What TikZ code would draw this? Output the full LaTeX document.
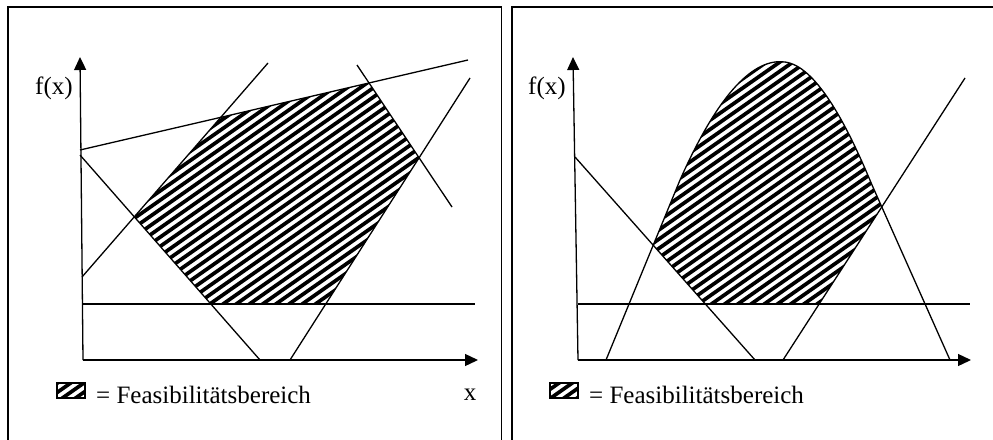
\documentclass[tikz,border=0pt]{standalone}
\usepackage{fontspec}
\setmainfont{Liberation Serif}
\usetikzlibrary{arrows.meta,calc}
\newcommand\myhatch{%
  \foreach \i in {0,...,135}{%
    \pgfmathsetmacro\cc{-730+13.2*\i}%
    \draw[hatchline] (\cc,500) -- ++(714,-500);}}
\begin{document}
\begin{tikzpicture}[x=1pt,y=-1pt,
  frame/.style={line width=1.4pt},
  con/.style={line width=1.3pt},
  axis/.style={line width=1.3pt,-{Triangle[length=13pt,width=12pt]}},
  hatchline/.style={line width=3.7pt},
  lbl/.style={font=\fontsize{25}{29}\selectfont,inner sep=0pt}]
\useasboundingbox (0,0) rectangle (993,439);
% frames
\draw[frame] (8,445) -- (8,7) -- (501.5,7) -- (501.5,445);
\draw[frame] (512,445) -- (512,7) -- (1000,7);

% ===== left panel =====
\coordinate (a1) at (80,150);  \coordinate (a2) at (468,60);
\coordinate (b1) at (80,155);  \coordinate (b2) at (260,360);
\coordinate (c1) at (82,277);  \coordinate (c2) at (268,63);
\coordinate (d1) at (357,65);  \coordinate (d2) at (452,207);
\coordinate (e1) at (290,360); \coordinate (e2) at (470,78);
\coordinate (g1) at (83,304);  \coordinate (g2) at (475,304);
\begin{scope}
  \clip (intersection of c1--c2 and a1--a2) --
        (intersection of a1--a2 and d1--d2) --
        (intersection of d1--d2 and e1--e2) --
        (intersection of e1--e2 and g1--g2) --
        (intersection of g1--g2 and b1--b2) --
        (intersection of b1--b2 and c1--c2) -- cycle;
  \myhatch
\end{scope}
\draw[con] (a1) -- (a2);
\draw[con] (b1) -- (b2);
\draw[con] (c1) -- (c2);
\draw[con] (d1) -- (d2);
\draw[con] (e1) -- (e2);
\draw[con] (g1) -- (g2);
\coordinate (o1) at (83,360);
\coordinate (ytip1) at (80,57);
\coordinate (xtip1) at (478,360);
\draw[axis] (o1) -- (ytip1);
\draw[axis] (o1) -- (xtip1);
\node[lbl,anchor=base west] (fx1) at (35,94) {f(x)};
\node[lbl,anchor=base] (xl1) at (470,400) {x};
% legend left
\begin{scope}
  \clip (57,383) rectangle (85,398);
  \myhatch
\end{scope}
\draw[line width=1.2pt] (57,383) rectangle (85,398);
\node[lbl,anchor=base west] (leg1) at (96,403) {= Feasibilitätsbereich};

% ===== right panel =====
\coordinate (p1) at (575,157); \coordinate (p2) at (755,360);
\coordinate (q1) at (783,360); \coordinate (q2) at (965,78);
\coordinate (h1) at (578,304); \coordinate (h2) at (970,304);
\coordinate (k0) at (606,360); \coordinate (k1) at (680,180);
\coordinate (kp) at (785,62);  \coordinate (k2) at (872,185);
\coordinate (k3) at (950,360);
\begin{scope}
  \clip (k0) -- (k1) .. controls (720,90) and (755,58) .. (kp)
        .. controls (815,66) and (845,120) .. (k2) -- (k3) -- cycle;
  \clip ($(p1)!-1!(p2)$) -- ($(p1)!2!(p2)$) -- (1100,563) -- (1100,-46) -- cycle;
  \clip ($(q1)!-1!(q2)$) -- ($(q1)!2!(q2)$) -- (500,-204) -- (500,642) -- cycle;
  \clip (500,0) rectangle (1000,304);
  \myhatch
\end{scope}
\draw[con] (k0) -- (k1) .. controls (720,90) and (755,58) .. (kp)
        .. controls (815,66) and (845,120) .. (k2) -- (k3);
\draw[con] (p1) -- (p2);
\draw[con] (q1) -- (q2);
\draw[con] (h1) -- (h2);
\coordinate (o2) at (578,360);
\coordinate (ytip2) at (573,57);
\coordinate (xtip2) at (971,360);
\draw[axis] (o2) -- (ytip2);
\draw[axis] (o2) -- (xtip2);
\node[lbl,anchor=base west] (fx2) at (528,94) {f(x)};
% legend right
\begin{scope}
  \clip (550,383) rectangle (578,398);
  \myhatch
\end{scope}
\draw[line width=1.2pt] (550,383) rectangle (578,398);
\node[lbl,anchor=base west] (leg2) at (589,403) {= Feasibilitätsbereich};
\end{tikzpicture}
\end{document}
